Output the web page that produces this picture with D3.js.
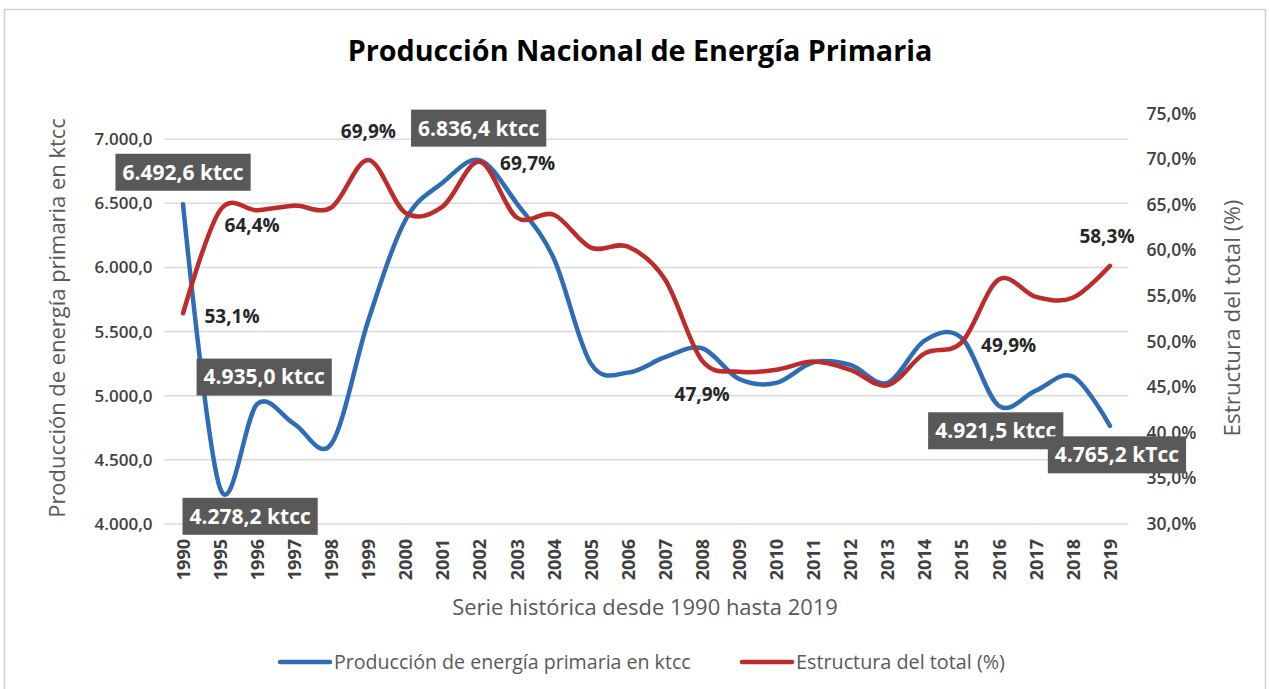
<!DOCTYPE html>
<html>
<head>
<meta charset="utf-8">
<script src="https://cdn.jsdelivr.net/npm/d3@7"></script>
<style>
  body { margin: 0; background: #fff; }
  svg text { font-family: "Open Sans", "Noto Sans", sans-serif; }
</style>
</head>
<body>
<svg id="chart"></svg>
<script>
// data
const years = ["1990", "1995", "1996", "1997", "1998", "1999", "2000", "2001", "2002", "2003",
               "2004", "2005", "2006", "2007", "2008", "2009", "2010", "2011", "2012", "2013",
               "2014", "2015", "2016", "2017", "2018", "2019"];
const production = [6492.6, 4278.2, 4935.0, 4780, 4625, 5590, 6370, 6660, 6836.4, 6500,
                    6070, 5250, 5180, 5300, 5370, 5130, 5100, 5260, 5240, 5100,
                    5430, 5450, 4921.5, 5040, 5150, 4765.2];
const share = [53.1, 64.4, 64.4, 64.9, 64.7, 69.9, 64.1, 64.8, 69.7, 63.6,
               63.9, 60.3, 60.4, 56.8, 47.9, 46.7, 46.9, 47.8, 46.9, 45.2,
               48.7, 49.9, 56.8, 54.9, 54.8, 58.3];

const prodTicks  = [4000, 4500, 5000, 5500, 6000, 6500, 7000];
const shareTicks = [30, 35, 40, 45, 50, 55, 60, 65, 70, 75];

const prodLabelYears  = ["1990", "1995", "1996", "2002", "2016", "2019"];
const prodLabelTexts  = ["6.492,6 ktcc", "4.278,2 ktcc", "4.935,0 ktcc", "6.836,4 ktcc", "4.921,5 ktcc", "4.765,2 kTcc"];
const shareLabelYears = ["1990", "1995", "1999", "2002", "2008", "2015", "2019"];
const shareLabelTexts = ["53,1%", "64,4%", "69,9%", "69,7%", "47,9%", "49,9%", "58,3%"];

// label placement (offset from the point)
const prodOffsets  = { "1990": [0, -32], "1995": [30, 28], "1996": [7, -27], "2002": [-1, -32], "2016": [-3, 25], "2019": [7, 29] };
const shareOffsets = { "1990": [49, 3], "1995": [32, 15], "1999": [0, -29], "2002": [48, 2], "2008": [0, 34], "2015": [47, 3], "2019": [-3, -29] };

// setup
const width  = 1269;
const height = 689;
const colors = { blue: '#2E6DB5', red: '#BE2B2B', grid: '#D9D9D9', box: '#595959', axis: '#404040', title: '#595959' };

const locale = d3.formatLocale({ decimal: ",", thousands: ".", grouping: [3], currency: ["", ""] });
const fmtProd  = locale.format(",.1f");
const fmtShare = d => locale.format(".1f")(d) + "%";

const svg = d3.select("#chart").attr("width", width).attr("height", height);

const plot = { left: 164.5, right: 1128.5, top: 113.5, bottom: 524 };

const x  = d3.scalePoint().domain(years).range([plot.left, plot.right]).padding(0.5);
const yL = d3.scaleLinear().domain([4000, 7200]).range([plot.bottom, plot.top]);
const yR = d3.scaleLinear().domain([30, 75]).range([plot.bottom, plot.top]);

function fitWidth(sel, w) {
  const len = sel.node().getComputedTextLength();
  const fs = parseFloat(sel.attr("font-size"));
  sel.attr("font-size", fs * w / len);
}

// frame
svg.append("rect")
  .attr("x", 4.5).attr("y", 9.5).attr("width", 1261).attr("height", 700)
  .attr("fill", "none").attr("stroke", "#D0D0D0").attr("stroke-width", 1.5);

// title
const title = svg.append("text")
  .attr("x", 640).attr("y", 51).attr("dy", "0.35em")
  .attr("text-anchor", "middle").attr("font-size", 25).attr("font-weight", 700)
  .attr("fill", "#000")
  .text("Producción Nacional de Energía Primaria");
fitWidth(title, 585);

// gridlines
svg.append("g").attr("class", "grid")
  .selectAll("line")
  .data(prodTicks)
  .join("line")
    .attr("x1", plot.left).attr("x2", plot.right)
    .attr("y1", d => yL(d)).attr("y2", d => yL(d))
    .attr("stroke", colors.grid).attr("stroke-width", 1.5);

// axes
const axisL = svg.append("g")
  .attr("transform", `translate(${plot.left},0)`)
  .call(d3.axisLeft(yL).tickValues(prodTicks).tickFormat(fmtProd).tickSize(0).tickPadding(12));
const axisR = svg.append("g")
  .attr("transform", `translate(${plot.right},0)`)
  .call(d3.axisRight(yR).tickValues(shareTicks).tickFormat(fmtShare).tickSize(0).tickPadding(18));
const axisB = svg.append("g")
  .attr("transform", `translate(0,${plot.bottom})`)
  .call(d3.axisBottom(x).tickSize(0));

[axisL, axisR, axisB].forEach(a => {
  a.select(".domain").remove();
  a.selectAll("text")
    .attr("font-family", null)
    .attr("fill", colors.axis)
    .attr("font-weight", 600);
});
axisL.selectAll("text").attr("font-size", 17);
axisR.selectAll("text").attr("font-size", 17.5);
axisB.selectAll("text")
  .attr("font-size", 18).attr("font-weight", 700)
  .attr("transform", "rotate(-90)")
  .attr("x", -15).attr("y", 0).attr("dy", "0.35em")
  .attr("text-anchor", "end");

// axis titles
const titleL = svg.append("text")
  .attr("transform", "translate(57,318) rotate(-90)")
  .attr("text-anchor", "middle").attr("dy", "0.35em")
  .attr("font-size", 20).attr("fill", colors.title)
  .text("Producción de energía primaria en ktcc");
fitWidth(titleL, 400);

const titleR = svg.append("text")
  .attr("transform", "translate(1232,318) rotate(-90)")
  .attr("text-anchor", "middle").attr("dy", "0.35em")
  .attr("font-size", 20).attr("fill", colors.title)
  .text("Estructura del total (%)");
fitWidth(titleR, 237);

const titleX = svg.append("text")
  .attr("x", 645).attr("y", 607).attr("dy", "0.35em")
  .attr("text-anchor", "middle")
  .attr("font-size", 20).attr("fill", colors.title)
  .text("Serie histórica desde 1990 hasta 2019");
fitWidth(titleX, 386);

// lines
const lineProd = d3.line()
  .x((d, i) => x(years[i]))
  .y(d => yL(d))
  .curve(d3.curveCatmullRom.alpha(0));
const lineShare = d3.line()
  .x((d, i) => x(years[i]))
  .y(d => yR(d))
  .curve(d3.curveCatmullRom.alpha(0));

svg.append("path")
  .datum(production)
  .attr("d", lineProd)
  .attr("fill", "none").attr("stroke", colors.blue)
  .attr("stroke-width", 4.5).attr("stroke-linecap", "round").attr("stroke-linejoin", "round");

svg.append("path")
  .datum(share)
  .attr("d", lineShare)
  .attr("fill", "none").attr("stroke", colors.red)
  .attr("stroke-width", 4.5).attr("stroke-linecap", "round").attr("stroke-linejoin", "round");

// share labels (plain text)
svg.append("g").selectAll("text")
  .data(shareLabelYears)
  .join("text")
    .attr("x", d => x(d) + shareOffsets[d][0])
    .attr("y", d => yR(share[years.indexOf(d)]) + shareOffsets[d][1])
    .attr("dy", "0.35em")
    .attr("text-anchor", "middle")
    .attr("font-size", 19).attr("font-weight", 700).attr("fill", "#262626")
    .text((d, i) => shareLabelTexts[i]);

// production labels (dark boxes)
const boxes = svg.append("g").selectAll("g")
  .data(prodLabelYears)
  .join("g")
    .attr("transform", d => `translate(${x(d) + prodOffsets[d][0]},${yL(production[years.indexOf(d)]) + prodOffsets[d][1]})`);

boxes.each(function(d, i) {
  const g = d3.select(this);
  const r = g.append("rect").attr("fill", colors.box);
  const t = g.append("text")
    .attr("text-anchor", "middle").attr("dy", "0.35em")
    .attr("font-size", 21).attr("font-weight", 700).attr("fill", "#fff")
    .text(prodLabelTexts[i]);
  const w = t.node().getComputedTextLength() + 14;
  r.attr("x", -w / 2).attr("y", -18.5).attr("width", w).attr("height", 37);
});

// legend
const legendItems = [
  { label: "Producción de energía primaria en ktcc", color: colors.blue, x: 278, w: 357 },
  { label: "Estructura del total (%)", color: colors.red, x: 740, w: 209 }
];
const legend = svg.append("g").attr("transform", "translate(0,662)");
legendItems.forEach(item => {
  legend.append("line")
    .attr("x1", item.x + 2).attr("x2", item.x + 52)
    .attr("stroke", item.color).attr("stroke-width", 4.5).attr("stroke-linecap", "round");
  const t = legend.append("text")
    .attr("x", item.x + 56).attr("dy", "0.35em")
    .attr("font-size", 18).attr("fill", colors.title)
    .text(item.label);
  fitWidth(t, item.w);
});
</script>
</body>
</html>
